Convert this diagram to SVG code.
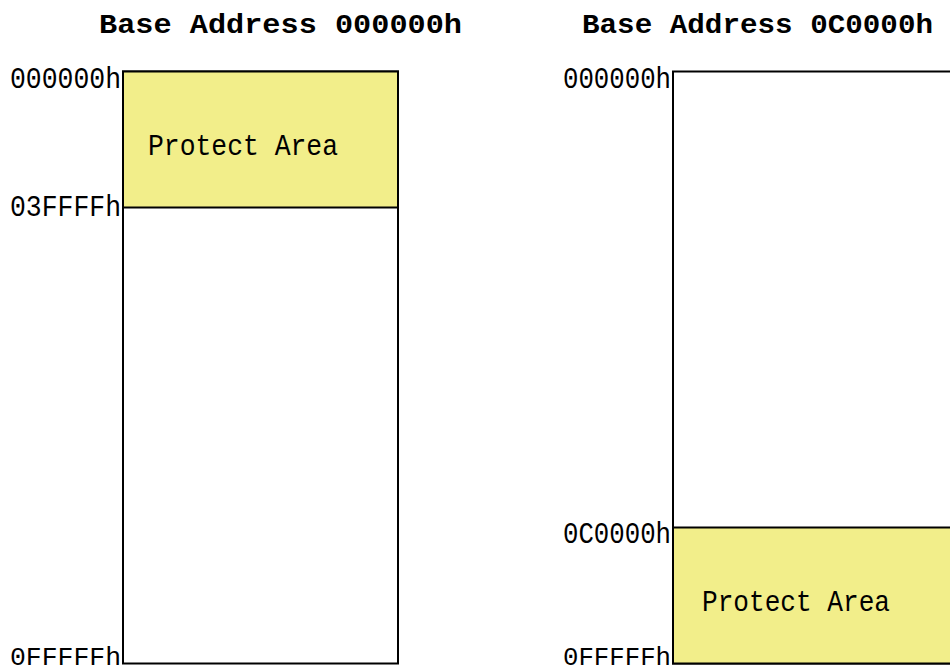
<svg xmlns="http://www.w3.org/2000/svg" width="950" height="672" viewBox="0 0 950 672">
<style>
.title{font-family:"Liberation Mono","DejaVu Sans Mono",monospace;font-weight:bold;font-size:27px;fill:#000}
.lbl{font-family:"Liberation Mono","DejaVu Sans Mono",monospace;font-size:29px;fill:#000}
.lblb{font-family:"Liberation Mono","DejaVu Sans Mono",monospace;font-size:26px;fill:#000}
.area{font-family:"Liberation Mono","DejaVu Sans Mono",monospace;font-size:29px;fill:#000}
.box{fill:#fff;stroke:#000;stroke-width:2}
.prot{fill:#F2EE8A;stroke:#000;stroke-width:2}
</style>
<rect width="950" height="672" fill="#fff"/>
<g id="left-map">
<text class="title" x="99" y="33" textLength="363" lengthAdjust="spacingAndGlyphs">Base Address 000000h</text>
<rect class="box" x="123" y="71.5" width="275" height="592"/>
<rect class="prot" x="123" y="71.5" width="275" height="136"/>
<text class="area" x="148" y="155" textLength="190" lengthAdjust="spacingAndGlyphs">Protect Area</text>
<text class="lbl" x="10" y="88" textLength="111" lengthAdjust="spacingAndGlyphs">000000h</text>
<text class="lbl" x="10" y="216" textLength="111" lengthAdjust="spacingAndGlyphs">03FFFFh</text>
<text class="lblb" x="10" y="665" textLength="111" lengthAdjust="spacingAndGlyphs">0FFFFFh</text>
</g>
<g id="right-map">
<text class="title" x="582" y="33" textLength="351" lengthAdjust="spacingAndGlyphs">Base Address 0C0000h</text>
<rect class="box" x="673" y="71.5" width="290" height="592"/>
<rect class="prot" x="673" y="527.5" width="290" height="136"/>
<text class="area" x="702" y="611" textLength="188" lengthAdjust="spacingAndGlyphs">Protect Area</text>
<text class="lbl" x="563" y="88" textLength="108" lengthAdjust="spacingAndGlyphs">000000h</text>
<text class="lbl" x="563" y="543" textLength="108" lengthAdjust="spacingAndGlyphs">0C0000h</text>
<text class="lblb" x="563" y="665" textLength="108" lengthAdjust="spacingAndGlyphs">0FFFFFh</text>
</g>
<g id="connectors"></g>
</svg>
